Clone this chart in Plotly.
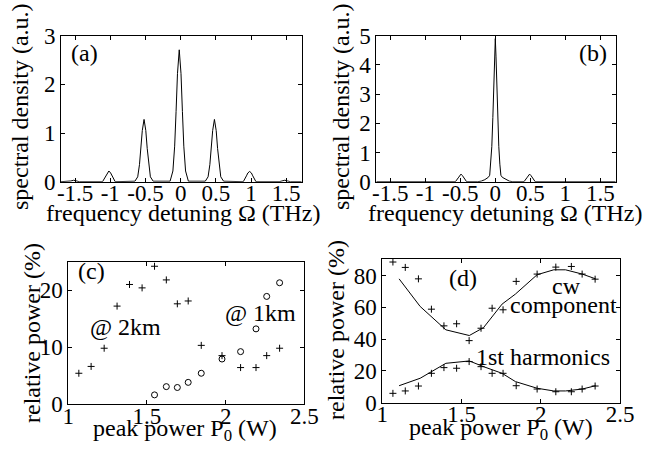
import plotly.graph_objects as go

# ---------------- data ----------------
# (a) spectrum, frequency detuning (THz) vs spectral density (a.u.)
a_freq = [-1.7,
          -1.6, -1.56, -1.52, -1.48, -1.44,
          -1.11, -1.065, -1.045, -1.02, -0.995, -0.975, -0.93,
          -0.65, -0.61, -0.585, -0.565, -0.545, -0.52, -0.495, -0.475, -0.455, -0.43, -0.39,
          -0.15, -0.11, -0.085, -0.065, -0.045, -0.02, 0.005, 0.025, 0.045, 0.07, 0.11,
          0.35, 0.39, 0.415, 0.435, 0.455, 0.48, 0.505, 0.525, 0.545, 0.57, 0.61,
          0.89, 0.935, 0.955, 0.98, 1.005, 1.025, 1.07,
          1.4, 1.44, 1.48, 1.52, 1.56,
          1.72]
a_dens = [0,
          0, 0.015, 0.03, 0.015, 0,
          0, 0.12, 0.18, 0.22, 0.18, 0.12, 0,
          0.01, 0.10, 0.35, 0.68, 1.05, 1.28, 1.05, 0.68, 0.35, 0.10, 0.01,
          0.01, 0.22, 0.73, 1.44, 2.22, 2.71, 2.22, 1.44, 0.73, 0.22, 0.01,
          0.01, 0.10, 0.35, 0.68, 1.05, 1.28, 1.05, 0.68, 0.35, 0.10, 0.01,
          0, 0.12, 0.18, 0.21, 0.18, 0.12, 0,
          0, 0.015, 0.03, 0.015, 0,
          0]

# (b) spectrum
b_freq = [-1.7, -0.57, -0.53, -0.51, -0.49, -0.47, -0.45, -0.41,
          -0.25, -0.2, -0.15, -0.1, -0.08, -0.065, -0.05, -0.035, -0.02, -0.01,
          0, 0.01, 0.02, 0.035, 0.05, 0.065, 0.08, 0.1, 0.15, 0.2, 0.25,
          0.41, 0.45, 0.47, 0.49, 0.51, 0.53, 0.57, 1.72]
b_dens = [0, 0, 0.13, 0.21, 0.26, 0.21, 0.13, 0,
          0, 0.02, 0.07, 0.15, 0.22, 0.6, 1.2, 2.2, 3.4, 4.3,
          4.9, 4.3, 3.4, 2.2, 1.2, 0.6, 0.22, 0.15, 0.07, 0.02, 0,
          0, 0.13, 0.21, 0.26, 0.21, 0.13, 0, 0]

# (c)/(d) peak power P0 (W)
p0 = [1.067, 1.145, 1.228, 1.31, 1.389, 1.469, 1.548, 1.623,
      1.693, 1.762, 1.845, 1.977, 2.095, 2.193, 2.261, 2.343]
c_2km = [5.4, 6.6, 9.8, 17.2, 21.0, 20.4, 24.2, 21.8,
         17.6, 18.1, 10.3, 8.5, 6.4, 6.4, 8.5, 9.8]
p0_1km = [1.548, 1.623, 1.693, 1.762, 1.845, 1.977, 2.095, 2.193, 2.261, 2.343]
c_1km = [1.6, 3.05, 2.9, 3.8, 5.4, 7.9, 9.2, 13.2, 18.9, 21.3]

d_cw = [88.6, 85.2, 78.0, 58.9, 48.4, 49.7, 39.1, 46.9,
        59.5, 58.5, 76.4, 81.0, 85.4, 85.8, 81.0, 77.8]
d_harm = [5.9, 7.4, 10.5, 18.5, 22.1, 21.7, 25.9, 22.7,
          18.5, 18.5, 10.7, 8.6, 6.9, 6.9, 8.6, 10.5]
fit_p0 = [1.106, 1.239, 1.401, 1.549, 1.639, 1.756, 1.84, 1.977, 2.082, 2.156, 2.262, 2.346]
fit_cw = [78.0, 60.6, 45.9, 42.3, 47.3, 62.1, 68.4, 80.6, 83.7, 83.7, 81.0, 78.0]
fit_harm = [10.7, 15.4, 24.8, 26.3, 22.7, 18.5, 13.3, 9.1, 7.4, 7.4, 8.6, 10.7]

freq_ticks = [-1.5, -1, -0.5, 0, 0.5, 1, 1.5]
freq_ticktext = ["-1.5", "-1", "-0.5", "0", "0.5", "1", "1.5"]
p0_ticks = [1, 1.5, 2, 2.5]
p0_ticktext = ["1", "1.5", "2", "2.5"]

# ---------------- figure ----------------
FONT = "Liberation Serif, Times New Roman, serif"
TICK = 23
TXT = 24

fig = go.Figure()
line = dict(color="black", width=1)
plus = dict(symbol="cross-thin", size=5, color="black", line=dict(color="black", width=1))
ring = dict(symbol="circle-open", size=6, color="black", line=dict(color="black", width=1))

fig.add_trace(go.Scatter(x=a_freq, y=a_dens, mode="lines", line=line, xaxis="x", yaxis="y"))
fig.add_trace(go.Scatter(x=b_freq, y=b_dens, mode="lines", line=line, xaxis="x2", yaxis="y2"))
fig.add_trace(go.Scatter(x=p0, y=c_2km, mode="markers", xaxis="x3", yaxis="y3", marker=plus))
fig.add_trace(go.Scatter(x=p0_1km, y=c_1km, mode="markers", xaxis="x3", yaxis="y3", marker=ring))
fig.add_trace(go.Scatter(x=p0, y=d_cw, mode="markers", xaxis="x4", yaxis="y4", marker=plus))
fig.add_trace(go.Scatter(x=p0, y=d_harm, mode="markers", xaxis="x4", yaxis="y4", marker=plus))
fig.add_trace(go.Scatter(x=fit_p0, y=fit_cw, mode="lines", line=line, xaxis="x4", yaxis="y4"))
fig.add_trace(go.Scatter(x=fit_p0, y=fit_harm, mode="lines", line=line, xaxis="x4", yaxis="y4"))

W, H = 646, 451
def dx(a, b):
    return [a / W, b / W]
def dy(top, bot):
    return [1 - bot / H, 1 - top / H]

common = dict(showline=True, mirror="ticks", linecolor="black", linewidth=1,
              ticks="inside", ticklen=4, tickcolor="black", showgrid=False, zeroline=False,
              automargin=False,
              tickfont=dict(family=FONT, size=TICK, color="black"))
xcommon = dict(ticklabelstandoff=-9, **common)

fig.update_layout(
    template="none",
    width=W, height=H, margin=dict(l=0, r=0, t=0, b=0, pad=0), autosize=False,
    paper_bgcolor="white", plot_bgcolor="white", showlegend=False,
    xaxis=dict(domain=dx(61, 301.7), range=[-1.7, 1.72], anchor="y",
               tickvals=freq_ticks, ticktext=freq_ticktext, **xcommon),
    yaxis=dict(domain=dy(35.7, 181.7), range=[0, 3], anchor="x", tickvals=[0, 1, 2, 3], **common),
    xaxis2=dict(domain=dx(376.3, 615.7), range=[-1.7, 1.72], anchor="y2",
                tickvals=freq_ticks, ticktext=freq_ticktext, **xcommon),
    yaxis2=dict(domain=dy(35.7, 181.7), range=[0, 5], anchor="x2", tickvals=[0, 1, 2, 3, 4, 5], **common),
    xaxis3=dict(domain=dx(68.3, 304.3), range=[1, 2.5], anchor="y3",
                tickvals=p0_ticks, ticktext=p0_ticktext, **xcommon),
    yaxis3=dict(domain=dy(261.7, 404), range=[0, 25], anchor="x3", tickvals=[0, 10, 20], **common),
    xaxis4=dict(domain=dx(382.3, 620), range=[1, 2.5], anchor="y4",
                tickvals=p0_ticks, ticktext=p0_ticktext, **xcommon),
    yaxis4=dict(domain=dy(259, 402.7), range=[0, 90.5], anchor="x4", tickvals=[0, 20, 40, 60, 80], **common),
)

def ann(text, x, y, xref, yref, angle=0, size=TXT):
    fig.add_annotation(text=text, x=x, y=y, xref=xref, yref=yref, showarrow=False,
                       textangle=angle, xanchor="center", yanchor="middle",
                       font=dict(family=FONT, size=size, color="black"))

# in-panel labels
ann("(a)", -1.37, 2.64, "x", "y")
ann("(b)", 1.40, 4.40, "x2", "y2")
ann("(c)", 1.145, 23.3, "x3", "y3")
ann("@ 2km", 1.361, 13.6, "x3", "y3")
ann("@ 1km", 2.22, 16.0, "x3", "y3")
ann("(d)", 1.511, 78.5, "x4", "y4")
ann("cw", 2.165, 73.2, "x4", "y4")
ann("component", 2.144, 61.6, "x4", "y4")
ann("1st harmonics", 2.017, 29.0, "x4", "y4")

# axis titles
ann("spectral density (a.u.)", 20 / W, 1 - 107 / H, "paper", "paper", angle=-90)
ann("spectral density (a.u.)", 341 / W, 1 - 107 / H, "paper", "paper", angle=-90)
ann("frequency detuning Ω (THz)", 183 / W, 1 - 213 / H, "paper", "paper")
ann("frequency detuning Ω (THz)", 505 / W, 1 - 213 / H, "paper", "paper")
ann("relative power (%)", 32 / W, 1 - 333 / H, "paper", "paper", angle=-90)
ann("relative power (%)", 336 / W, 1 - 330 / H, "paper", "paper", angle=-90)
ann("peak power P<sub>0</sub> (W)", 185 / W, 1 - 430 / H, "paper", "paper")
ann("peak power P<sub>0</sub> (W)", 501 / W, 1 - 429 / H, "paper", "paper")

fig.write_html("out.html", config={"displayModeBar": False},
               post_script="document.body.style.margin='0';document.body.style.overflow='hidden';")
